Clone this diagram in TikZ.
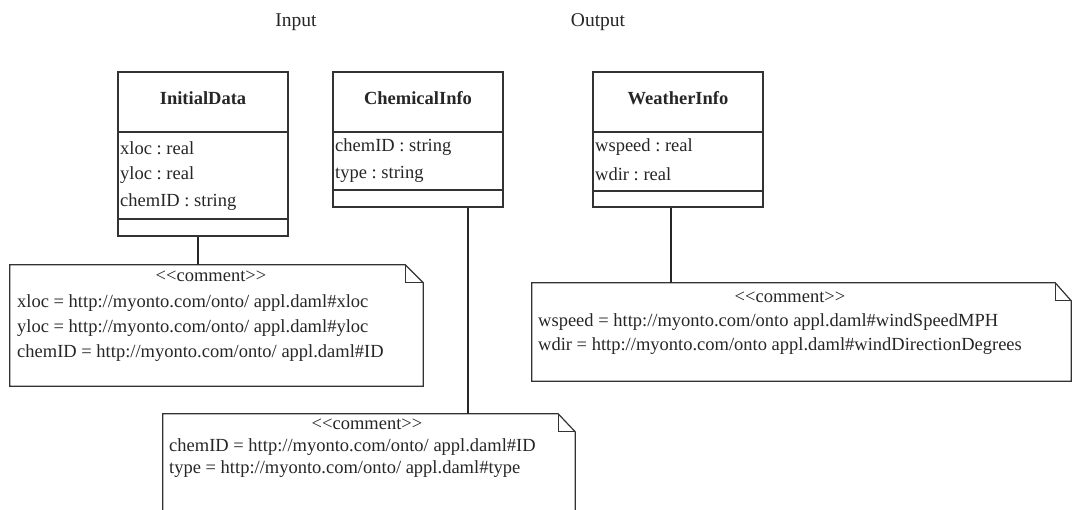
\documentclass[tikz,border=0pt]{standalone}
\usepackage{fontspec}
\setmainfont{Liberation Serif}
\frenchspacing
\begin{document}
\begin{tikzpicture}[x=1pt,y=-1pt,
  txt/.style={font=\fontsize{18.5}{21}\selectfont, inner sep=0pt, anchor=west, text=black!85},
  ttl/.style={font=\fontsize{18.5}{21}\selectfont\bfseries, inner sep=0pt, text=black!85},
  lbl/.style={font=\fontsize{19.5}{22}\selectfont, inner sep=0pt, text=black!85},
  umlbox/.style={draw=black!80, line width=1.2pt, rectangle, inner sep=0pt, fill=white},
  notebox/.style={draw=none, rectangle, inner sep=0pt},
  noteline/.style={draw=black!80, line width=1.2pt, line join=miter},
  conn/.style={draw=black!85, line width=1.2pt}]
\useasboundingbox (0,0) rectangle (1073,510);
\clip (0,0) rectangle (1073,510);

% headings
\node[lbl] (inlbl) at (296,22) {Input};
\node[lbl] (outlbl) at (598,22) {Output};

% class boxes
\node[umlbox, minimum width=170pt, minimum height=164pt] (idbox) at (203,154) {};
\node[umlbox, minimum width=170pt, minimum height=135pt] (cibox) at (418,139.5) {};
\node[umlbox, minimum width=170pt, minimum height=135pt] (wibox) at (678,139.5) {};

\draw[noteline] (118,132) -- (288,132) (118,219) -- (288,219);
\draw[noteline] (333,132) -- (503,132) (333,190) -- (503,190);
\draw[noteline] (593,132) -- (763,132) (593,191) -- (763,191);

\node[ttl] (idt) at (203,98) {InitialData};
\node[ttl] (cit) at (418,98) {ChemicalInfo};
\node[ttl] (wit) at (678,98) {WeatherInfo};

\node[txt] (ida1) at (120,148) {xloc : real};
\node[txt] (ida2) at (120,175) {yloc : real};
\node[txt] (ida3) at (120,202) {chemID : string};

\node[txt] (cia1) at (335,147) {chemID : string};
\node[txt] (cia2) at (335,174) {type : string};

\node[txt] (wia1) at (595,147) {wspeed : real};
\node[txt] (wia2) at (595,174) {wdir : real};

% notes
\node[notebox, minimum width=413pt, minimum height=121pt] (n1) at (216.5,325.5) {};
\node[notebox, minimum width=539pt, minimum height=98pt] (n2) at (801.5,332) {};
\node[notebox, minimum width=412pt, minimum height=110pt] (n3) at (369,469) {};

\draw[noteline] (n1.south west) -- (n1.north west) -- ([xshift=-18pt]n1.north east)
  -- ([yshift=-18pt]n1.north east) -- (n1.south east) -- cycle;
\draw[noteline] ([xshift=-18pt]n1.north east) -- ([xshift=-18pt,yshift=-18pt]n1.north east) -- ([yshift=-18pt]n1.north east);

\draw[noteline] (n2.south west) -- (n2.north west) -- ([xshift=-16pt]n2.north east)
  -- ([yshift=-18pt]n2.north east) -- (n2.south east) -- cycle;
\draw[noteline] ([xshift=-16pt]n2.north east) -- ([xshift=-16pt,yshift=-18pt]n2.north east) -- ([yshift=-18pt]n2.north east);

\draw[noteline] (n3.south west) -- (n3.north west) -- ([xshift=-17pt]n3.north east)
  -- ([yshift=-18pt]n3.north east) -- (n3.south east) -- cycle;
\draw[noteline] ([xshift=-17pt]n3.north east) -- ([xshift=-17pt,yshift=-18pt]n3.north east) -- ([yshift=-18pt]n3.north east);

% note texts
\node[txt, anchor=center] (n1h) at (211,276) {<{}<comment>{}>};
\node[txt] (n1a) at (17,303) {xloc = http://myonto.com/onto/ appl.daml\#xloc};
\node[txt] (n1b) at (17,328) {yloc = http://myonto.com/onto/ appl.daml\#yloc};
\node[txt] (n1c) at (17,353) {chemID = http://myonto.com/onto/ appl.daml\#ID};

\node[txt, anchor=center] (n2h) at (790,297) {<{}<comment>{}>};
\node[txt] (n2a) at (538,322) {wspeed = http://myonto.com/onto appl.daml\#windSpeedMPH};
\node[txt] (n2b) at (538,346) {wdir = http://myonto.com/onto appl.daml\#windDirectionDegrees};

\node[txt, anchor=center] (n3h) at (367,424) {<{}<comment>{}>};
\node[txt] (n3a) at (169,447) {chemID = http://myonto.com/onto/ appl.daml\#ID};
\node[txt] (n3b) at (169,469) {type = http://myonto.com/onto/ appl.daml\#type};

% connectors
\draw[conn] ([xshift=-5pt]idbox.south) -- ([xshift=-5pt]idbox.south |- n1.north);
\draw[conn] ([xshift=50pt]cibox.south) -- ([xshift=50pt]cibox.south |- n3.north);
\draw[conn] ([xshift=-7pt]wibox.south) -- ([xshift=-7pt]wibox.south |- n2.north);
\end{tikzpicture}
\end{document}
